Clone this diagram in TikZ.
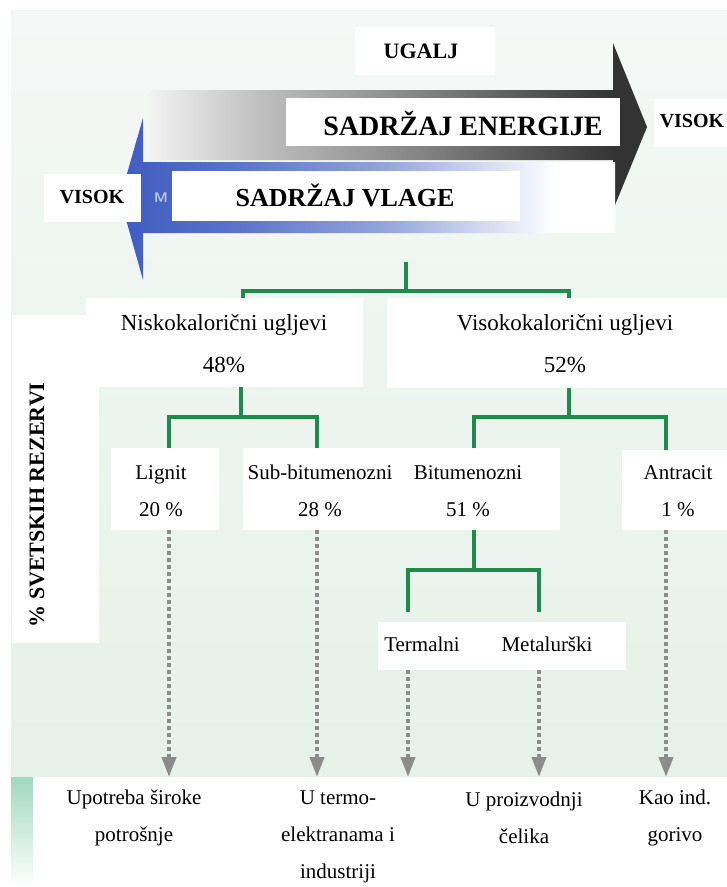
\documentclass[tikz,border=0pt]{standalone}
\usepackage{fontspec}
\setmainfont{Liberation Serif}[BoldFont={Liberation Serif Bold}]
\usepackage{tikz}
\usetikzlibrary{arrows.meta,positioning,calc}
\definecolor{cgreen}{RGB}{30,139,74}
\definecolor{cgray}{RGB}{140,140,140}
\definecolor{cblue}{RGB}{62,92,192}
\definecolor{bgtop}{RGB}{244,248,246}
\definecolor{bgmid}{RGB}{231,241,234}
\definecolor{bgbot}{RGB}{228,240,231}
\definecolor{cteal}{RGB}{160,216,190}
\colorlet{eA}{black!5}
\colorlet{eB}{black!25}
\colorlet{eC}{black!45}
\colorlet{eD}{black!80}
\colorlet{eE}{black!82}
\colorlet{mA}{cblue!85!white}
\colorlet{mB}{cblue!55!white}
\colorlet{mC}{cblue!22!white}
\pgfdeclarehorizontalshading{energyshade}{100bp}{color(0bp)=(eA);color(25bp)=(eA);color(36bp)=(eB);color(50bp)=(eC);color(72bp)=(eD);color(100bp)=(eE)}
\pgfdeclarehorizontalshading{moistshade}{100bp}{color(0bp)=(cblue);color(25bp)=(cblue);color(37bp)=(mA);color(52bp)=(mB);color(62bp)=(mC);color(69bp)=(white);color(100bp)=(white)}

\begin{document}
\begin{tikzpicture}[x=1pt, y=-1pt,
  panel/.style={fill=white, inner sep=0pt, outer sep=0pt},
  headlabel/.style={font=\fontsize{20}{24}\selectfont\bfseries},
  catlabel/.style={align=center, font=\fontsize{23}{42}\selectfont},
  sublabel/.style={align=center, font=\fontsize{21}{37}\selectfont},
  treeline/.style={draw=cgreen, line width=4pt},
  usearrow/.style={draw=cgray, line width=4pt, dash pattern=on 4pt off 3pt,
    -{Triangle[length=20pt, width=14pt]}}]
\useasboundingbox (0,0) rectangle (727,887);

% background
\fill[white] (0,0) rectangle (727,887);
\shade[top color=bgtop, middle color=bgmid, bottom color=bgbot] (11,10) rectangle (727,887);
\shade[top color=cteal, bottom color=white] (11,777) rectangle (33,887);

% the two arrows
\shade[shading=energyshade] (150,90) -- (613,90) -- (613,43) -- (647,127) -- (613,210) -- (613,160) -- (150,160) -- cycle;
\shade[shading=moistshade] (615,162) -- (143,162) -- (143,118) -- (120,198) -- (143,280) -- (143,233) -- (615,233) -- cycle;
\node[font=\fontsize{14}{16}\selectfont\sffamily\bfseries, text=cblue!35!white] (mark) at (161,198) {M};

% top labels
\node[panel, minimum width=140, minimum height=48] (coalbox) at (425,51) {};
\node[font=\fontsize{22}{26}\selectfont\bfseries] (coal) at (421,51) {UGALJ};
\node[panel, minimum width=334, minimum height=48] (energybox) at (453,122) {};
\node[font=\fontsize{28}{32}\selectfont\bfseries] (energy) at (463,123) {SADRŽAJ ENERGIJE};
\node[panel, minimum width=73, minimum height=48] (highbox) at (690.5,123) {};
\node[headlabel] (high) at (692,121) {VISOK};
\node[panel, minimum width=97, minimum height=48] (wetbox) at (92.5,198) {};
\node[headlabel] (wet) at (92,197) {VISOK};
\node[panel, minimum width=348, minimum height=50] (moistbox) at (346,196) {};
\node[font=\fontsize{26}{30}\selectfont\bfseries] (moist) at (345,195) {SADRŽAJ VLAGE};

% axis label
\node[panel, minimum width=87, minimum height=328] (sharebox) at (55.5,479) {};
\node[font=\fontsize{22}{26}\selectfont\bfseries, rotate=90] (share) at (37,505) {\% SVETSKIH REZERVI};

% first level
\node[panel, minimum width=277, minimum height=89] (lowcalbox) at (224.5,342.5) {};
\node[catlabel] (lowcal) at (224,344) {Niskokalorični ugljevi\\48\%};
\node[panel, minimum width=340, minimum height=90] (highcalbox) at (557,343) {};
\node[catlabel] (highcal) at (565,344) {Visokokalorični ugljevi\\52\%};

% second level
\node[panel, minimum width=108, minimum height=82] (ligbox) at (165,489) {};
\node[sublabel] (lig) at (161,491) {Lignit\\20 \%};
\node[panel, minimum width=317, minimum height=82] (bitbox) at (401.5,489) {};
\node[sublabel] (subbit) at (320,491) {Sub-bitumenozni\\28 \%};
\node[sublabel] (bit) at (468,491) {Bitumenozni\\51 \%};
\node[panel, minimum width=105, minimum height=80] (antbox) at (674.5,490) {};
\node[sublabel] (ant) at (678,491) {Antracit\\1 \%};

% third level
\node[panel, minimum width=248, minimum height=48] (termbox) at (502,646) {};
\node[sublabel] (term) at (422,644) {Termalni};
\node[sublabel] (met) at (547,644) {Metalurški};

% uses
\node[panel, minimum width=694, minimum height=110] (usebox) at (380,832) {};
\node[sublabel] (home) at (134,818) {Upotreba široke\\potrošnje};
\node[sublabel] (power) at (338,837) {U termo-\\elektranama i\\industriji};
\node[sublabel] (steel) at (524,818) {U proizvodnji\\čelika};
\node[sublabel] (fuel) at (675,818) {Kao ind.\\gorivo};

% tree
\coordinate (root) at (406,262);
\coordinate (in-low) at (lowcalbox.north -| 243,0);
\coordinate (in-high) at (highcalbox.north -| 569,0);
\draw[treeline] (root) -- ++(0,29) coordinate (fork1);
\draw[treeline] (in-low) |- (fork1) -| (in-high);

\coordinate (out-low) at (lowcalbox.south -| 241,0);
\coordinate (in-lig) at (ligbox.north -| 169,0);
\coordinate (in-sub) at (bitbox.north -| 317,0);
\draw[treeline] (out-low) -- ++(0,30) coordinate (fork2);
\draw[treeline] (in-lig) |- (fork2) -| (in-sub);

\coordinate (out-high) at (highcalbox.south -| 569,0);
\coordinate (in-bit) at (bitbox.north -| 474,0);
\coordinate (in-ant) at (antbox.north -| 666,0);
\draw[treeline] (out-high) -- ++(0,29) coordinate (fork3);
\draw[treeline] (in-bit) |- (fork3) -| (in-ant);

\coordinate (out-bit) at (bitbox.south -| 474,0);
\coordinate (in-term) at (408,612);
\coordinate (in-met) at (539,612);
\draw[treeline] (out-bit) -- ++(0,40) coordinate (fork4);
\draw[treeline] (in-term) |- (fork4) -| (in-met);

% dotted arrows
\draw[usearrow] (ligbox.south -| in-lig) -- (usebox.north -| in-lig);
\draw[usearrow] (bitbox.south -| in-sub) -- (usebox.north -| in-sub);
\draw[usearrow] (termbox.south -| in-term) -- (usebox.north -| in-term);
\draw[usearrow] (termbox.south -| in-met) -- (usebox.north -| in-met);
\draw[usearrow] (antbox.south -| in-ant) -- (usebox.north -| in-ant);

\end{tikzpicture}
\end{document}
